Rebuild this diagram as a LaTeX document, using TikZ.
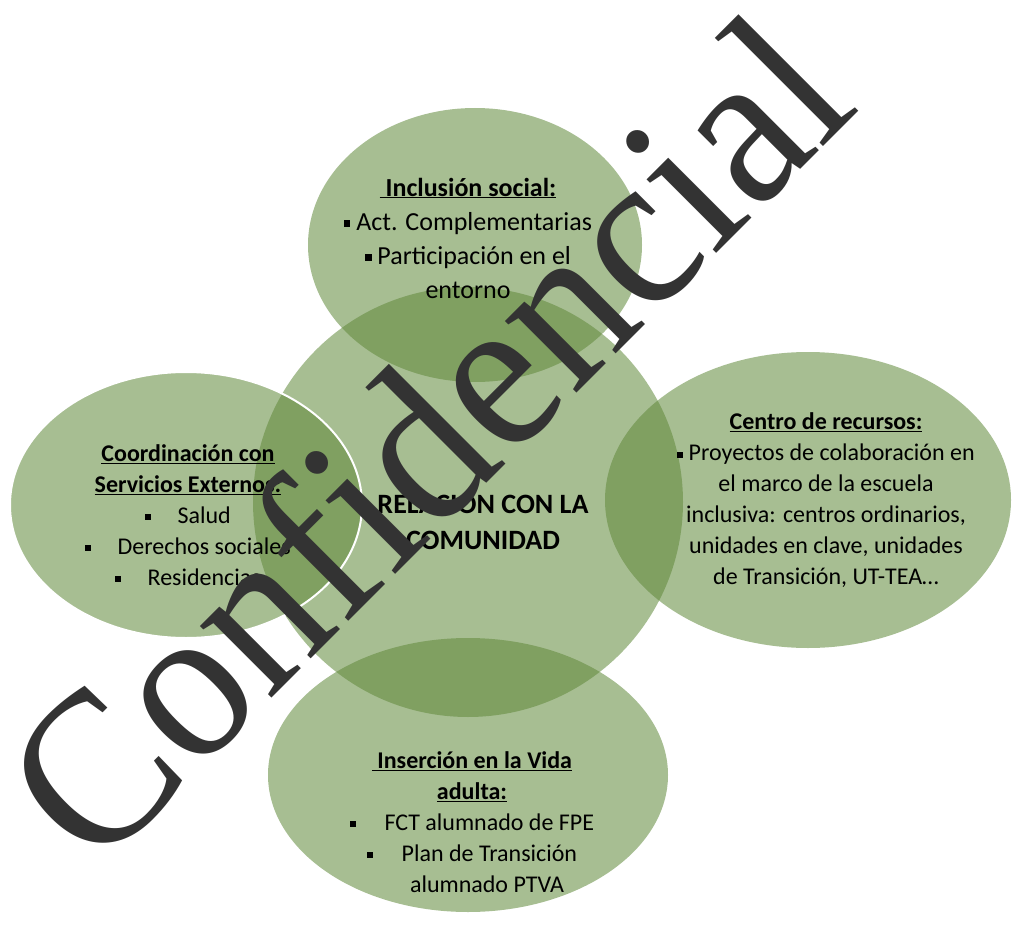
\documentclass[tikz,border=0pt]{standalone}
\usepackage{fontspec}
\setmainfont{Carlito}
\newfontfamily\wmfont[Ligatures=CommonOff]{Liberation Serif}
\usetikzlibrary{shapes.geometric}
\definecolor{leaf}{RGB}{95,136,57}
\definecolor{stamp}{RGB}{51,51,51}
\newcommand{\bul}{\rule[0.12em]{0.25em}{0.25em}}

\begin{document}
\begin{tikzpicture}[
        x=1pt, y=-1pt,
        area/.style={ellipse, fill=leaf, fill opacity=0.55, inner sep=0pt},
        txt/.style={align=center, font=\fontsize{24}{31}\selectfont}
    ]
    \useasboundingbox (0,0) rectangle (1015,931);

    \node[area, minimum width=430pt, minimum height=430pt] (core) at (468,502) {};
    \node[area, minimum width=334pt, minimum height=274pt] (social) at (475,245) {};
    \node[area, minimum width=406pt, minimum height=296pt] (recursos) at (808,500) {};
    \node[area, minimum width=400pt, minimum height=274pt] (vida) at (468,775) {};
    \node[area, draw=white, line width=2pt, minimum width=352pt, minimum height=266pt] (externos) at (186,505) {};

    \node[txt, font=\fontsize{26}{34}\selectfont] (t-social) at (468,238)
        {\textbf{\underline{\ Inclusión social:}}\\ \bul\ Act. Complementarias\\ \bul\ Participación en el\\ entorno};
    \node[txt] (t-externos) at (188,515)
        {\textbf{\underline{Coordinación con}}\\ \textbf{\underline{Servicios Externos:}}\\ \bul\hspace{1.1em}Salud\\ \bul\hspace{1.1em}Derechos sociales\\ \bul\hspace{1.1em}Residencias};
    \node[txt] (t-recursos) at (826,500)
        {\textbf{\underline{Centro de recursos:}}\\ \bul\ Proyectos de colaboración en\\ el marco de la escuela\\ inclusiva: centros ordinarios,\\ unidades en clave, unidades\\ de Transición, UT-TEA…};
    \node[txt] (t-vida) at (472,822)
        {\textbf{\underline{\ Inserción en la Vida}}\\ \textbf{\underline{adulta:}}\\ \bul\hspace{1.2em}FCT alumnado de FPE\\ \bul\hspace{1.2em}Plan de Transición\\ \hspace*{30pt}alumnado PTVA};
    \node[txt, font=\fontsize{28}{36}\selectfont\bfseries] (t-core) at (483,520)
        {RELACIÓN CON LA\\ COMUNIDAD};

    % watermark on top
    \node[anchor=base west, rotate=45, yscale=1.05, inner sep=0pt, text=stamp,
        font=\wmfont\fontsize{210}{210}\selectfont] (stamp) at (95,875) {Confidencial};
\end{tikzpicture}
\end{document}
